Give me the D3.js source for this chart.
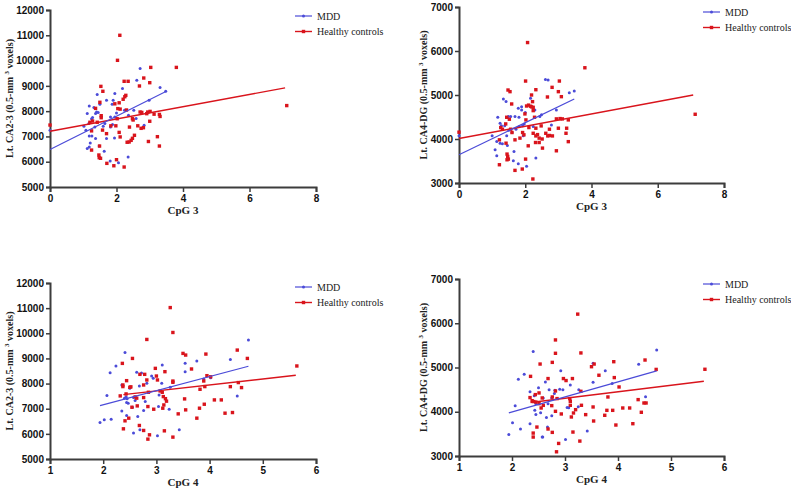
<!DOCTYPE html>
<html><head><meta charset="utf-8">
<script src="https://cdn.jsdelivr.net/npm/d3@7"></script>
<style>html,body{margin:0;padding:0;background:#fff}svg{display:block}</style>
</head><body>
<svg id="chart" width="791" height="493"></svg>
<script>
// ---------- DATA ----------
const seriesNames = ["MDD", "Healthy controls"];
const xTitles = ["CpG 3", "CpG 3", "CpG 4", "CpG 4"];
const yTitles = ["Lt. CA2-3", "Lt. CA4-DG", "Lt. CA2-3", "Lt. CA4-DG"];
const xTicksCpG3 = [0, 2, 4, 6, 8];
const xTicksCpG4 = [1, 2, 3, 4, 5, 6];
const yTicksCA23 = [5000, 6000, 7000, 8000, 9000, 10000, 11000, 12000];
const yTicksCA4 = [3000, 4000, 5000, 6000, 7000];

const p1_mdd = [[0,7245],[2.71,9690],[2.61,9226],[1.95,8700],[2.18,8900],[3.31,8935],[3.48,8790],[2.98,8430],[1.9,8430],[1.87,8275],[1.7,8430],[1.42,8660],[1.5,8275],[1.37,7905],[1.18,8200],[1.32,8140],[1.4,7970],[1.12,7905],[1.28,7745],[1.17,7510],[1.25,7700],[1.65,7510],[1.35,7375],[1.08,7245],[1.18,7020],[1.26,7020],[1.37,6915],[1.02,7400],[1.12,6520],[1.18,6585],[1.21,6740],[1.48,6625],[1.63,6410],[1.7,6915],[1.94,6940],[1.82,7770],[1.88,7470],[1.95,7770],[2.0,7930],[1.82,7375],[2.36,7840],[2.59,7710],[2.83,7445],[2.35,6190],[2.06,5960],[1.81,6030],[2.52,8040],[2.24,8040],[1.45,7950],[1.6,7400]];
const p1_hc = [[0,7450],[2.10,11000],[2.03,10010],[3.03,9730],[3.80,9730],[7.12,8220],[2.23,9180],[2.35,9180],[2.82,9310],[3.0,9125],[1.53,8980],[1.59,8785],[2.69,8995],[2.28,8625],[2.25,8570],[2.2,8470],[2.08,8330],[1.95,8290],[2.11,8080],[1.5,8350],[1.37,8110],[1.54,7820],[1.54,7740],[1.2,7560],[1.28,7610],[1.42,7560],[2.3,8045],[2.48,7700],[2.71,7965],[2.76,7950],[2.91,7900],[2.94,7965],[3.01,7990],[3.13,7880],[3.29,7870],[3.31,7790],[2.64,7420],[2.74,7320],[2.81,7345],[2.39,7370],[2.54,7045],[2.48,6925],[2.44,6845],[2.38,6780],[2.32,6770],[2.96,6800],[3.23,6990],[3.29,6620],[2.08,7160],[2.11,6980],[1.98,7420],[1.7,7110],[1.58,7250],[1.25,6460],[1.49,6620],[1.47,6265],[1.48,6160],[1.52,6135],[1.71,5935],[1.92,5840],[2.0,6080],[2.23,5790],[2.02,7700],[2.04,8100],[1.83,7420],[1.25,7220],[3.0,7600],[2.5,7650]];

const p2_mdd = [[0,4072],[2.69,5340],[2.61,5355],[3.48,5090],[3.33,5053],[2.94,4660],[1.34,4910],[1.42,4850],[1.79,4700],[1.89,4735],[1.89,4660],[1.49,4510],[1.56,4510],[1.17,4494],[1.24,4360],[1.28,4300],[1.38,4300],[1.69,4510],[1.81,4494],[1.92,4300],[1.97,4343],[2.16,4925],[2.29,4660],[2.44,4510],[2.49,4550],[2.79,4320],[2.24,4283],[1.72,4222],[1.82,4283],[1.0,4072],[1.14,3943],[1.24,3905],[1.31,3890],[1.44,4072],[1.46,3853],[1.09,3755],[1.14,3619],[1.66,3717],[1.64,3506],[1.79,3438],[2.04,3378],[2.32,3566],[1.94,4072],[1.6,4147],[2.0,4600],[1.5,4200]];
const p2_hc = [[0,4155],[2.07,6192],[3.8,5619],[7.13,4562],[2.01,5317],[3.03,5317],[3.0,5076],[2.32,5120],[2.81,5174],[3.09,4962],[2.67,4955],[1.48,5113],[1.54,5076],[2.19,5000],[2.22,4849],[1.59,4796],[2.1,4770],[2.16,4745],[2.19,4730],[2.24,4720],[2.04,4750],[2.24,4645],[1.99,4570],[2.28,4494],[1.44,4494],[1.52,4449],[1.41,4343],[1.26,4260],[1.31,4222],[1.56,4222],[1.6,4147],[2.02,4434],[2.94,4457],[3.05,4464],[3.12,4457],[3.3,4434],[3.25,4245],[3.0,4245],[2.73,4222],[2.32,4245],[2.48,4298],[2.11,4260],[2.24,4130],[2.32,4070],[2.42,4020],[2.37,4100],[2.51,4000],[2.62,4130],[2.68,4070],[2.73,4080],[2.82,4070],[3.23,4130],[3.3,3940],[2.94,3732],[2.09,3845],[2.31,3920],[2.42,3920],[2.52,3793],[1.69,3981],[1.42,3905],[1.22,3981],[1.45,3657],[1.47,3604],[1.49,3543],[1.45,3528],[1.22,3415],[1.69,3287],[1.91,3317],[2.01,3543],[2.23,3091],[1.92,4147],[1.84,4020],[1.96,4095]];

const p3_mdd = [[1.94,6452],[2.02,6557],[2.15,6584],[2.07,7522],[2.13,8433],[2.24,8698],[2.41,9240],[2.35,7945],[2.35,6914],[2.4,7416],[2.43,7480],[2.45,7400],[2.47,7220],[2.44,7250],[2.44,6729],[2.5,7812],[2.55,7059],[2.57,6030],[2.57,7443],[2.63,8447],[2.68,7905],[2.65,6690],[2.69,6161],[2.76,6927],[2.79,7284],[2.82,8010],[2.91,8300],[2.94,8210],[3.02,5923],[3.05,7548],[3.11,8737],[3.1,8010],[3.04,7086],[3.24,6980],[3.26,7852],[3.43,6161],[3.54,8804],[3.54,8473],[3.76,8896],[3.89,8180],[4.39,8962],[4.73,9728],[4.52,7509],[4.02,8235],[2.72,8420],[2.6,7330]];
const p3_hc = [[3.26,11022],[3.31,10032],[2.82,9755],[2.36,8803],[2.55,9000],[3.5,9200],[3.55,9134],[3.93,9173],[4.52,9332],[4.71,9000],[5.64,8700],[2.98,8605],[3.16,8473],[3.66,8580],[2.69,8367],[2.78,8367],[2.82,8143],[3.0,8300],[3.02,8143],[2.44,8116],[2.5,7852],[2.52,7870],[2.37,7944],[2.37,7880],[2.76,7944],[3.31,8100],[3.31,8050],[3.95,8314],[3.89,8103],[4.02,8270],[4.39,7878],[4.54,8040],[4.6,7840],[3.82,7773],[3.91,7880],[2.43,7588],[2.32,7509],[2.6,7470],[2.63,7420],[2.76,7443],[3.07,7707],[3.11,7654],[3.13,7482],[3.17,7400],[3.19,7300],[3.14,7150],[2.85,7654],[3.53,7390],[2.54,7059],[2.64,7112],[2.84,7086],[2.95,6980],[3.12,7020],[3.41,6795],[3.55,6954],[3.81,7020],[3.9,7178],[4.09,7350],[4.22,7350],[4.29,6822],[4.43,6848],[3.76,6624],[2.41,6518],[2.48,6624],[2.38,6200],[2.68,6333],[2.76,6135],[3.15,6120],[2.87,5962],[2.84,5790],[3.31,5870]];

const p4_mdd = [[1.94,3484],[2.01,3749],[2.06,4135],[2.12,4732],[2.23,4845],[2.4,5359],[2.34,4452],[2.34,3726],[2.42,4361],[2.45,3938],[2.5,4543],[2.54,3976],[2.58,3431],[2.65,3870],[2.67,3658],[2.7,4500],[2.75,3908],[2.8,4414],[2.92,4928],[2.96,4500],[3.01,3371],[3.04,4097],[3.1,4603],[3.25,4112],[3.26,4500],[3.42,3567],[3.53,4664],[3.53,5095],[3.76,4928],[3.89,4641],[4.39,5072],[4.52,4339],[4.73,5397],[2.16,3610],[2.43,4032],[2.59,4312],[2.75,4312],[2.68,4183],[2.63,4670],[2.81,4485],[2.9,4510],[3.07,4093],[2.57,3428],[2.45,4180]];
const p4_hc = [[3.24,6206],[2.82,5623],[2.82,5321],[3.3,5329],[2.53,5078],[2.76,5116],[3.5,5018],[3.55,5078],[3.92,5131],[4.51,5169],[4.72,4957],[5.64,4960],[2.35,4800],[2.68,4750],[2.97,4750],[3.02,4705],[3.14,4750],[3.64,4825],[3.93,4772],[4.02,4560],[3.3,4462],[2.82,4470],[2.51,4425],[2.44,4387],[2.34,4320],[2.38,4250],[2.41,4230],[2.45,4220],[2.57,4312],[2.51,4183],[2.76,4334],[2.85,4297],[3.09,4297],[3.1,4236],[3.1,4146],[3.2,4047],[3.16,3972],[3.31,4146],[3.53,4108],[3.81,4334],[4.09,4085],[4.22,4085],[4.38,4274],[4.49,4198],[4.53,4198],[4.44,3988],[3.79,4032],[3.9,4032],[3.75,3920],[3.96,3700],[4.28,3730],[3.39,3935],[3.54,3791],[2.93,3950],[2.82,4010],[2.59,4145],[2.55,4085],[2.75,4138],[3.12,3882],[2.47,3654],[2.40,3518],[2.40,3428],[2.68,3610],[2.76,3534],[3.15,3541],[3.28,3337],[2.88,3284],[2.84,3095]];

// fitted regression lines (endpoints in data units)
const fit1_mdd = [[0,6480],[3.5,8790]];
const fit1_hc  = [[0,7205],[7.07,8920]];
const fit2_mdd = [[0,3642],[3.48,4910]];
const fit2_hc  = [[0,4010],[7.07,5000]];
const fit3_mdd = [[1.94,7120],[4.73,8690]];
const fit3_hc  = [[2.38,7560],[5.62,8330]];
const fit4_mdd = [[1.94,3975],[4.73,4925]];
const fit4_hc  = [[2.35,4210],[5.62,4690]];

// ---------- LAYOUT ----------
const svg = d3.select("#chart");
const BLUE = "#4b4bd8", RED = "#d9141c", AXIS = "#3c3c3c";

const panels = [
  {L:50,  R:316, T:10,  B:187, xDom:[0,8], xt:xTicksCpG3, yDom:[5000,12000], yt:yTicksCA23, mdd:p1_mdd, hc:p1_hc, fm:fit1_mdd, fh:fit1_hc, ytX:13,  lgX:295, lgY:16},
  {L:459, R:724, T:7,   B:183, xDom:[0,8], xt:xTicksCpG3, yDom:[3000,7000], yt:yTicksCA4,  mdd:p2_mdd, hc:p2_hc, fm:fit2_mdd, fh:fit2_hc, ytX:427, lgX:703, lgY:12},
  {L:50,  R:316, T:283, B:459, xDom:[1,6], xt:xTicksCpG4, yDom:[5000,12000], yt:yTicksCA23, mdd:p3_mdd, hc:p3_hc, fm:fit3_mdd, fh:fit3_hc, ytX:13,  lgX:295, lgY:287},
  {L:459, R:724, T:279, B:456, xDom:[1,6], xt:xTicksCpG4, yDom:[3000,7000], yt:yTicksCA4,  mdd:p4_mdd, hc:p4_hc, fm:fit4_mdd, fh:fit4_hc, ytX:427, lgX:703, lgY:284}
];

panels.forEach((p, i) => {
  const x = d3.scaleLinear().domain(p.xDom).range([p.L, p.R]);
  const y = d3.scaleLinear().domain(p.yDom).range([p.B, p.T]);
  const g = svg.append("g");

  // axes
  const xa = g.append("g").attr("transform", `translate(0,${p.B})`)
    .call(d3.axisBottom(x).tickValues(p.xt).tickFormat(d3.format("d")).tickSizeOuter(0).tickSize(5).tickPadding(3));
  const ya = g.append("g").attr("transform", `translate(${p.L},0)`)
    .call(d3.axisLeft(y).tickValues(p.yt).tickFormat(d3.format("d")).tickSizeOuter(0).tickSize(4).tickPadding(2));
  [xa, ya].forEach(a => {
    a.select(".domain").attr("stroke", AXIS).attr("stroke-width", 2);
    a.selectAll(".tick line").attr("stroke", AXIS).attr("stroke-width", 1.5);
    a.selectAll(".tick text").attr("fill", "#111").style("font-family", "Liberation Sans, Arial, sans-serif")
      .style("font-weight", "bold").style("font-size", "10px");
  });

  // axis titles
  g.append("text").attr("x", (p.L + p.R) / 2).attr("y", p.B + 27)
    .attr("text-anchor", "middle").style("font-family", "Liberation Serif, Times New Roman, serif")
    .style("font-weight", "bold").style("font-size", "11px").attr("fill", "#222").text(xTitles[i]);
  const yt = g.append("text").attr("transform", `translate(${p.ytX},${(p.T + p.B) / 2}) rotate(-90)`)
    .attr("text-anchor", "middle").style("font-family", "Liberation Serif, Times New Roman, serif")
    .style("font-weight", "bold").style("font-size", "10px").attr("fill", "#222");
  yt.append("tspan").text(yTitles[i] + " (0.5-mm ");
  yt.append("tspan").attr("dy", -4).style("font-size", "7px").text("3");
  yt.append("tspan").attr("dy", 4).text(" voxels)");

  const line = d3.line().x(d => x(d[0])).y(d => y(d[1]));

  // points
  g.append("g").selectAll("circle").data(p.mdd).join("circle")
    .attr("cx", d => x(d[0])).attr("cy", d => y(d[1])).attr("r", 1.5).attr("fill", BLUE);
  g.append("g").selectAll("rect").data(p.hc).join("rect")
    .attr("x", d => x(d[0]) - 1.7).attr("y", d => y(d[1]) - 1.7).attr("width", 3.4).attr("height", 3.4).attr("fill", RED);

  // regression lines
  g.append("path").datum(p.fh).attr("d", line).attr("fill", "none").attr("stroke", RED).attr("stroke-width", 1.4);
  g.append("path").datum(p.fm).attr("d", line).attr("fill", "none").attr("stroke", BLUE).attr("stroke-width", 1.2);

  // legend
  const lg = g.append("g");
  seriesNames.forEach((name, k) => {
    const ly = p.lgY + k * 15.5;
    const col = k === 0 ? BLUE : RED;
    lg.append("line").attr("x1", p.lgX).attr("x2", p.lgX + 17).attr("y1", ly).attr("y2", ly)
      .attr("stroke", col).attr("stroke-width", k === 0 ? 1.2 : 1.4);
    if (k === 0) lg.append("circle").attr("cx", p.lgX + 8.5).attr("cy", ly).attr("r", 1.5).attr("fill", col);
    else lg.append("rect").attr("x", p.lgX + 8.5 - 1.7).attr("y", ly - 1.7).attr("width", 3.4).attr("height", 3.4).attr("fill", col);
    lg.append("text").attr("x", p.lgX + 22).attr("y", ly + 3.5)
      .style("font-family", "Liberation Serif, Times New Roman, serif").style("font-size", "10px")
      .attr("fill", "#222").text(name);
  });
});
</script>
</body></html>
